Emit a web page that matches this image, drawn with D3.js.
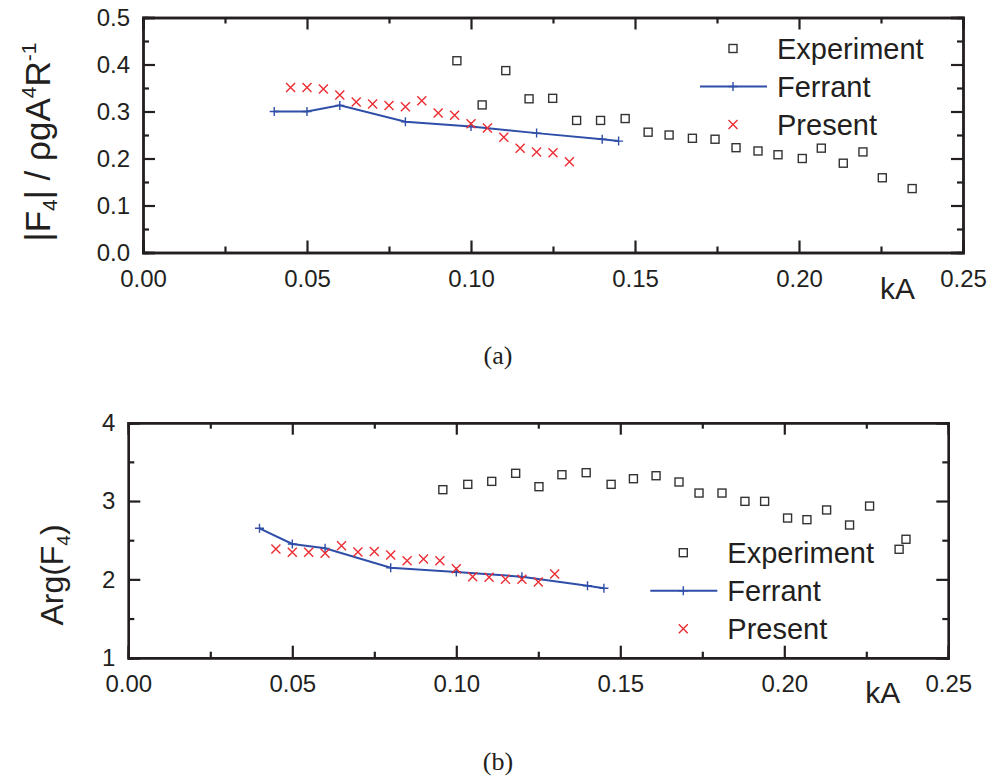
<!DOCTYPE html>
<html>
<head>
<meta charset="utf-8">
<script src="https://cdn.jsdelivr.net/npm/d3@7"></script>
<style>
  body { margin: 0; background: #fff; }
  svg { display: block; }
  text { fill: #231f20; }
</style>
</head>
<body>
<svg width="991" height="779"></svg>
<script>
// ---- data ----
// (a) amplitude |F4| / rho g A^4 R^-1
let expKA_a = [0.0957, 0.1034, 0.1106, 0.1177, 0.1249, 0.1322, 0.1395, 0.147, 0.154, 0.1604, 0.1675,
               0.1744, 0.1808, 0.1875, 0.1936, 0.201, 0.2068, 0.2135, 0.2195, 0.2254, 0.2345];
let expVal_a = [0.408, 0.314, 0.387, 0.327, 0.328, 0.281, 0.281, 0.285, 0.256, 0.250, 0.243,
                0.241, 0.223, 0.216, 0.208, 0.200, 0.222, 0.190, 0.214, 0.159, 0.136];
let ferKA_a = [0.04, 0.05, 0.06, 0.08, 0.10, 0.12, 0.14, 0.145];
let ferVal_a = [0.300, 0.300, 0.313, 0.278, 0.268, 0.254, 0.241, 0.237];
let preKA = [0.045, 0.05, 0.055, 0.06, 0.065, 0.07, 0.075, 0.08, 0.085, 0.09,
             0.095, 0.10, 0.105, 0.11, 0.115, 0.12, 0.125, 0.13];
let preVal_a = [0.351, 0.351, 0.348, 0.335, 0.320, 0.316, 0.313, 0.310, 0.323, 0.297,
                0.292, 0.274, 0.265, 0.245, 0.222, 0.214, 0.212, 0.193];

// (b) phase Arg(F4)
let expKA_b = [0.0959, 0.1035, 0.1108, 0.1181, 0.1252, 0.1322, 0.1396, 0.1472, 0.154, 0.1609, 0.1679,
               0.174, 0.181, 0.188, 0.194, 0.201, 0.2069, 0.2129, 0.2199, 0.226, 0.235, 0.2371];
let expVal_b = [3.145, 3.213, 3.251, 3.354, 3.183, 3.336, 3.362, 3.213, 3.285, 3.323, 3.243,
                3.102, 3.102, 2.996, 2.996, 2.783, 2.762, 2.886, 2.694, 2.936, 2.384, 2.512];
let ferKA_b = [0.04, 0.05, 0.06, 0.08, 0.10, 0.12, 0.14, 0.145];
let ferVal_b = [2.652, 2.452, 2.396, 2.149, 2.094, 2.034, 1.919, 1.886];
let preVal_b = [2.388, 2.345, 2.345, 2.332, 2.430, 2.349, 2.357, 2.311, 2.238, 2.260,
                2.238, 2.136, 2.034, 2.026, 2.000, 2.000, 1.966, 2.068];

let xTicks = [0, 0.05, 0.10, 0.15, 0.20, 0.25];
let yTicks_a = [0, 0.1, 0.2, 0.3, 0.4, 0.5];
let yTicks_b = [1, 2, 3, 4];
let legendNames = ['Experiment', 'Ferrant', 'Present'];

let red = '#ec2d33';
let blue = '#2f4ea8';
let ink = '#231f20';
let sans = '"Liberation Sans", Arial, sans-serif';
let serif = '"Liberation Serif", "Times New Roman", serif';

let svg = d3.select('svg');

function zipPts(xs, ys) {
    return xs.map((x, i) => [x, ys[i]]);
}

function drawSquare(g, x, y) {
    g.append('rect')
        .attr('x', x - 4).attr('y', y - 4)
        .attr('width', 8).attr('height', 8)
        .attr('fill', 'none').attr('stroke', '#333').attr('stroke-width', 1.4);
}

function drawCross(g, x, y) {
    g.append('path')
        .attr('d', 'M' + (x - 4.5) + ',' + (y - 4.5) + 'L' + (x + 4.5) + ',' + (y + 4.5) +
                   'M' + (x - 4.5) + ',' + (y + 4.5) + 'L' + (x + 4.5) + ',' + (y - 4.5))
        .attr('stroke', red).attr('stroke-width', 1.4);
}

function drawPlus(g, x, y) {
    g.append('path')
        .attr('d', 'M' + (x - 4.5) + ',' + y + 'L' + (x + 4.5) + ',' + y +
                   'M' + x + ',' + (y - 4.5) + 'L' + x + ',' + (y + 4.5))
        .attr('stroke', blue).attr('stroke-width', 1.4);
}

function drawPanel(p) {
    let g = svg.append('g').attr('transform', 'translate(' + [p.left, p.top] + ')');
    let w = 820, h = 235;

    let x = d3.scaleLinear().domain([0, 0.25]).range([0, w]);
    let y = d3.scaleLinear().domain(p.yDomain).range([h, 0]);

    let xMinor = d3.range(0.025, 0.25, 0.05);
    let yMinor = p.yMinor;

    // axes, ticks pointing inward on all four sides
    g.append('g').attr('transform', 'translate(0,' + h + ')')
        .call(d3.axisBottom(x).tickValues(xTicks).tickSize(-12).tickPadding(17).tickFormat(d3.format('.2f')));
    g.append('g').attr('transform', 'translate(0,' + h + ')')
        .call(d3.axisBottom(x).tickValues(xMinor).tickSize(-6).tickFormat(''));
    g.append('g')
        .call(d3.axisTop(x).tickValues(xTicks).tickSize(-12).tickFormat(''));
    g.append('g')
        .call(d3.axisTop(x).tickValues(xMinor).tickSize(-6).tickFormat(''));

    g.append('g')
        .call(d3.axisLeft(y).tickValues(p.yTicks).tickSize(-12).tickPadding(13).tickFormat(p.yFormat));
    g.append('g')
        .call(d3.axisLeft(y).tickValues(yMinor).tickSize(-6).tickFormat(''));
    g.append('g').attr('transform', 'translate(' + w + ',0)')
        .call(d3.axisRight(y).tickValues(p.yTicks).tickSize(-12).tickFormat(''));
    g.append('g').attr('transform', 'translate(' + w + ',0)')
        .call(d3.axisRight(y).tickValues(yMinor).tickSize(-6).tickFormat(''));

    g.selectAll('.domain').attr('stroke', ink).attr('stroke-width', 2.4);
    g.selectAll('.tick line').attr('stroke', ink).attr('stroke-width', 2.2);
    g.selectAll('.tick text')
        .attr('font-size', 24).attr('font-family', sans)
        .attr('fill', ink);
    g.selectAll('.domain').raise();

    // experiment squares
    let expG = g.append('g');
    zipPts(p.expKA, p.expVal).forEach(d => drawSquare(expG, x(d[0]), y(d[1])));

    // ferrant line + plus markers
    let line = d3.line().x(d => x(d[0])).y(d => y(d[1]));
    let ferPts = zipPts(p.ferKA, p.ferVal);
    g.append('path').datum(ferPts)
        .attr('d', line).attr('fill', 'none')
        .attr('stroke', blue).attr('stroke-width', 2);
    let ferG = g.append('g');
    ferPts.forEach(d => drawPlus(ferG, x(d[0]), y(d[1])));

    // present crosses
    let preG = g.append('g');
    zipPts(preKA, p.preVal).forEach(d => drawCross(preG, x(d[0]), y(d[1])));

    // kA label
    g.append('text')
        .attr('x', p.kaX).attr('y', p.kaY)
        .attr('font-family', sans).attr('font-size', 30).text('kA');

    // legend
    let lg = g.append('g').attr('transform', 'translate(' + [p.legX, p.legY] + ')');
    let rowH = 38;
    legendNames.forEach((name, i) => {
        let cy = i * rowH;
        if (i === 0) drawSquare(lg, 0, cy);
        if (i === 1) {
            lg.append('line').attr('x1', -33).attr('x2', 34).attr('y1', cy).attr('y2', cy)
                .attr('stroke', blue).attr('stroke-width', 2);
            drawPlus(lg, 0, cy);
        }
        if (i === 2) drawCross(lg, 0, cy);
        lg.append('text')
            .attr('x', 44).attr('y', cy).attr('dy', '0.36em')
            .attr('font-family', sans).attr('font-size', 29).text(name);
    });

    return g;
}

// panel (a)
drawPanel({
    left: 143, top: 17.5,
    yDomain: [0, 0.5], yTicks: yTicks_a, yMinor: d3.range(0.05, 0.5, 0.1),
    yFormat: d3.format('.1f'),
    expKA: expKA_a, expVal: expVal_a,
    ferKA: ferKA_a, ferVal: ferVal_a,
    preVal: preVal_a,
    kaX: 737, kaY: 281,
    legX: 590, legY: 31
});

// panel (b)
drawPanel({
    left: 128.3, top: 422.7,
    yDomain: [1, 4], yTicks: yTicks_b, yMinor: [1.5, 2.5, 3.5],
    yFormat: d3.format('d'),
    expKA: expKA_b, expVal: expVal_b,
    ferKA: ferKA_b, ferVal: ferVal_b,
    preVal: preVal_b,
    kaX: 737, kaY: 280,
    legX: 555, legY: 130
});

// y-axis titles
let ya = svg.append('text')
    .attr('transform', 'translate(50,142) rotate(-90)')
    .attr('text-anchor', 'middle')
    .attr('font-family', sans)
    .attr('font-size', 35);
ya.append('tspan').text('|F');
ya.append('tspan').attr('font-size', 21).attr('dy', 7).text('4');
ya.append('tspan').attr('dy', -7).text('| / ρgA');
ya.append('tspan').attr('font-size', 21).attr('dy', -14).text('4');
ya.append('tspan').attr('dy', 14).text('R');
ya.append('tspan').attr('font-size', 21).attr('dy', -14).text('-1');

let yb = svg.append('text')
    .attr('transform', 'translate(63,575) rotate(-90)')
    .attr('text-anchor', 'middle')
    .attr('font-family', sans)
    .attr('font-size', 32);
yb.append('tspan').text('Arg(F');
yb.append('tspan').attr('font-size', 19).attr('dy', 7).text('4');
yb.append('tspan').attr('dy', -7).text(')');

// captions
svg.append('text').attr('x', 498).attr('y', 364).attr('text-anchor', 'middle')
    .attr('font-family', serif)
    .attr('font-size', 26).text('(a)');
svg.append('text').attr('x', 498).attr('y', 770).attr('text-anchor', 'middle')
    .attr('font-family', serif)
    .attr('font-size', 26).text('(b)');
</script>
</body>
</html>
